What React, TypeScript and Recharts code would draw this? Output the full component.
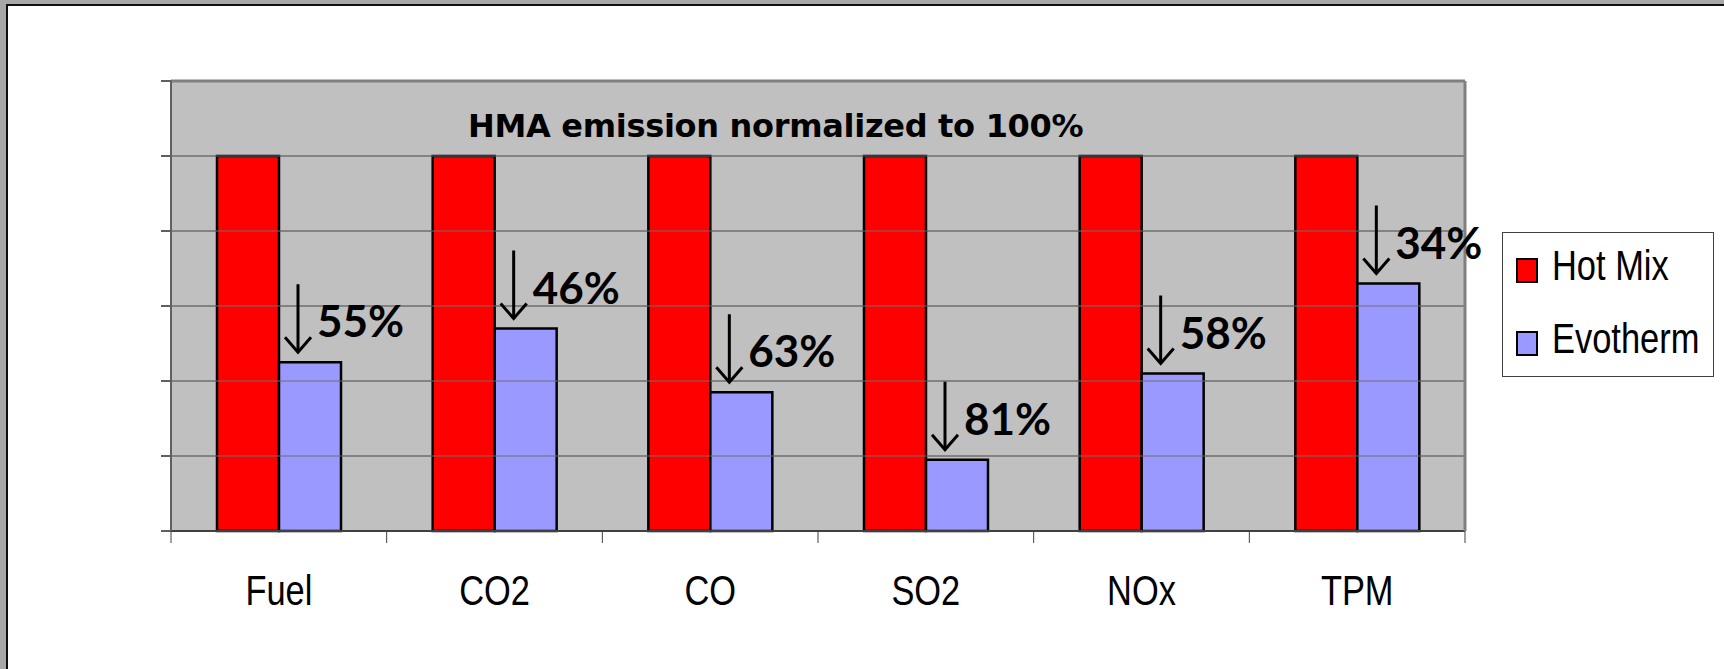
import React from "react"
import {
  BarChart,
  Bar,
  XAxis,
  YAxis,
  CartesianGrid,
  ReferenceLine,
  Legend,
  LabelList,
} from "recharts"

const categories = ["Fuel", "CO2", "CO", "SO2", "NOx", "TPM"]
const hotMix = [100, 100, 100, 100, 100, 100]
const evotherm = [45, 54, 37, 19, 42, 66]
const reductions = ["55%", "46%", "63%", "81%", "58%", "34%"]
const yTicks = [0, 20, 40, 60, 80, 100, 120]
const seriesNames = ["Hot Mix", "Evotherm"]
const seriesColors = ["#ff0000", "#9999ff"]
const title = "HMA emission normalized to 100%"

const data = categories.map((name, i) => ({
  name,
  hotMix: hotMix[i],
  evotherm: evotherm[i],
  reduction: reductions[i],
}))

const W = 1724
const H = 669
const margin = { top: 81, right: 258, bottom: 0, left: 161 }
const Y_AXIS_W = 10
const RIGHT_AXIS_W = 1
const X_AXIS_H = 138
const band =
  (W - margin.left - Y_AXIS_W - margin.right - RIGHT_AXIS_W) / categories.length

const narrowFont = "'Liberation Sans', Arial, sans-serif"

// no tick labels on the value axis, only the tick marks
const NoLabel = () => <g />

function CategoryTick(props: any) {
  const { x, y, payload, index } = props
  const half = band / 2
  return (
    <g>
      <line x1={x - half} x2={x - half} y1={y} y2={y + 12} stroke="#404040" strokeWidth={1} />
      {index === categories.length - 1 && (
        <line x1={x + half} x2={x + half} y1={y} y2={y + 12} stroke="#404040" strokeWidth={1} />
      )}
      <text
        transform={`translate(${x},${y + 74}) scale(0.8,1)`}
        textAnchor="middle"
        fontSize={43}
        fontFamily={narrowFont}
        fill="#000"
      >
        {payload.value}
      </text>
    </g>
  )
}

function DropLabel(props: any) {
  const { x, y, width, value } = props
  const cx = Number(x) + Number(width) / 2
  const ax = cx - 12
  const top = Number(y)
  return (
    <g>
      <line x1={ax} x2={ax} y1={top - 78} y2={top - 10} stroke="#000" strokeWidth={3} />
      <polyline
        points={`${ax - 13},${top - 25} ${ax},${top - 10} ${ax + 13},${top - 25}`}
        fill="none"
        stroke="#000"
        strokeWidth={3}
      />
      <text
        x={cx + 7}
        y={top - 25}
        fontSize={44}
        fontWeight={700}
        fontFamily="Lato, sans-serif"
        fill="#000"
      >
        {value}
      </text>
    </g>
  )
}

function LegendBox() {
  return (
    <div
      style={{
        position: "relative",
        width: 210,
        height: 143,
        border: "1px solid #404040",
        background: "#fff",
      }}
    >
      {seriesNames.map((n, i) => (
        <React.Fragment key={n}>
          <div
            style={{
              position: "absolute",
              left: 13,
              top: 25 + i * 73,
              width: 18,
              height: 21,
              background: seriesColors[i],
              border: "2px solid #000",
            }}
          />
          <div
            style={{
              position: "absolute",
              left: 49,
              top: 12 + i * 73,
              fontFamily: narrowFont,
              fontSize: 42,
              lineHeight: "42px",
              color: "#000",
              whiteSpace: "nowrap",
              transform: "scaleX(0.82)",
              transformOrigin: "left center",
            }}
          >
            {n}
          </div>
        </React.Fragment>
      ))}
    </div>
  )
}

export default function App() {
  return (
    <div style={{ position: "relative", width: W, height: H, background: "#a8a8a8", overflow: "hidden" }}>
      <style>{"body{margin:0}"}</style>
      <div
        style={{
          position: "absolute",
          left: 6,
          top: 4,
          right: 0,
          bottom: 0,
          background: "#fff",
          borderLeft: "2px solid #111",
          borderTop: "2px solid #111",
        }}
      />
      <div style={{ position: "absolute", left: 0, top: 0 }}>
        <BarChart
          width={W}
          height={H}
          data={data}
          margin={margin}
          barCategoryGap={46}
          barGap={0}
        >
          <CartesianGrid vertical={false} stroke="#6e6e6e" strokeWidth={1} fill="#c0c0c0" />
          {yTicks.slice(1, -1).map((t) => (
            <ReferenceLine key={t} y={t} stroke="#6e6e6e" strokeWidth={1} />
          ))}
          <XAxis
            dataKey="name"
            interval={0}
            height={X_AXIS_H}
            tickSize={0}
            tickMargin={0}
            tickLine={false}
            axisLine={{ stroke: "#404040", strokeWidth: 2 }}
            tick={<CategoryTick />}
          />
          <YAxis
            domain={[0, 120]}
            ticks={yTicks}
            interval={0}
            width={Y_AXIS_W}
            tickSize={10}
            tick={NoLabel}
            tickLine={{ stroke: "#606060", strokeWidth: 2 }}
            axisLine={{ stroke: "#606060", strokeWidth: 2 }}
          />
          <YAxis
            yAxisId="frame"
            orientation="right"
            domain={[0, 120]}
            width={RIGHT_AXIS_W}
            tick={false}
            tickLine={false}
            axisLine={{ stroke: "#808080", strokeWidth: 3 }}
          />
          <ReferenceLine y={120} stroke="#808080" strokeWidth={3} />
          <Legend
            layout="vertical"
            align="center"
            verticalAlign="middle"
            content={() => <LegendBox />}
            wrapperStyle={{ left: 1502, top: 232, width: 212, height: 145 }}
          />
          <Bar
            dataKey="hotMix"
            name={seriesNames[0]}
            fill={seriesColors[0]}
            stroke="#000"
            strokeWidth={2.5}
            isAnimationActive={false}
          />
          <Bar
            dataKey="evotherm"
            name={seriesNames[1]}
            fill={seriesColors[1]}
            stroke="#000"
            strokeWidth={2.5}
            isAnimationActive={false}
          >
            <LabelList dataKey="reduction" content={<DropLabel />} />
          </Bar>
        </BarChart>
      </div>
      <div
        style={{
          position: "absolute",
          left: 468,
          top: 110,
          fontFamily: "'DejaVu Sans', sans-serif",
          fontWeight: 700,
          fontSize: 32,
          letterSpacing: -0.3,
          lineHeight: "32px",
          color: "#000",
          whiteSpace: "nowrap",
        }}
      >
        {title}
      </div>
    </div>
  )
}
